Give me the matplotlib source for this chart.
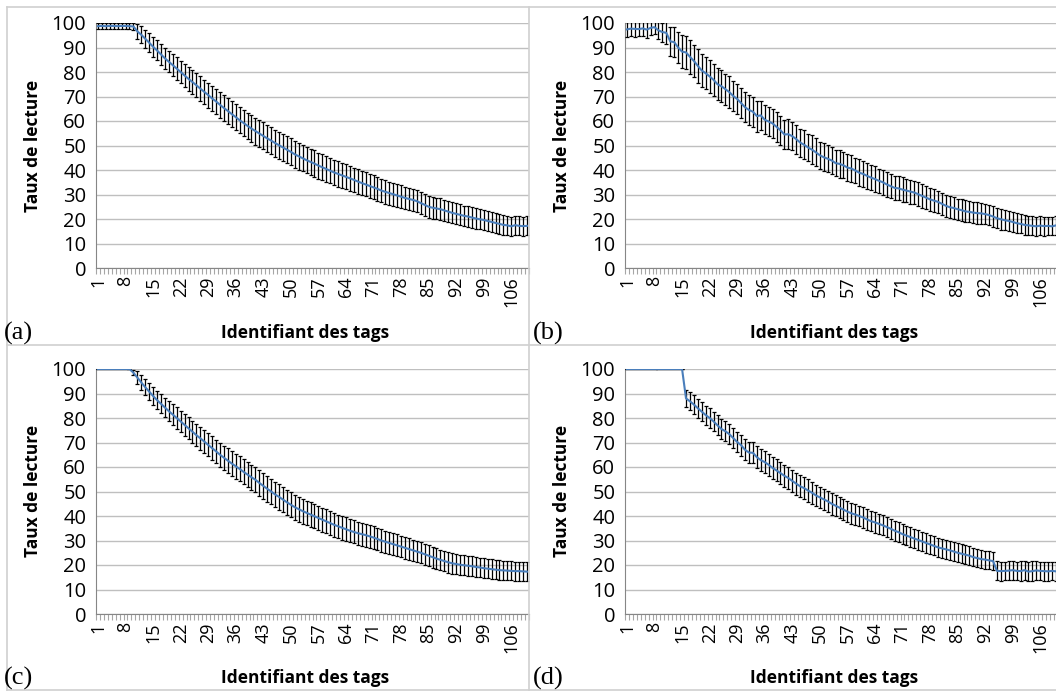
import matplotlib
matplotlib.use("Agg")
import matplotlib.pyplot as plt
from matplotlib.lines import Line2D

# mean read rate per tag (%), panels (a)-(d)
rate_a = [98.7, 98.8, 98.7, 98.8, 98.8, 98.7, 98.8, 98.8, 98.7, 98.6,
          96.6, 95.2, 93.6, 92.0, 90.3, 88.8, 87.2, 85.6, 84.2, 82.8,
          81.4, 80.0, 78.6, 77.2, 75.9, 74.6, 73.2, 71.9, 70.6, 69.2,
          68.0, 66.6, 65.3, 64.1, 62.8, 61.6, 60.3, 59.2, 58.0, 56.9,
          55.9, 54.9, 53.9, 52.9, 52.0, 51.0, 50.1, 49.2, 48.3, 47.4,
          46.4, 45.6, 44.8, 44.0, 43.3, 42.6, 41.8, 41.1, 40.4, 39.7,
          39.0, 38.4, 37.8, 37.2, 36.6, 36.0, 35.3, 34.7, 34.1, 33.5,
          32.9, 32.3, 31.6, 31.1, 30.6, 30.1, 29.6, 29.1, 28.6, 28.2,
          27.8, 27.3, 26.5, 25.8, 25.0, 24.6, 24.3, 24.0, 23.5, 23.0,
          22.5, 22.1, 21.7, 21.3, 21.0, 20.6, 20.2, 19.9, 19.6, 19.2,
          18.8, 18.4, 18.0, 17.6, 17.4, 17.0, 17.5, 17.2, 17.1, 17.2]
err_a = [1.3, 1.3, 1.2, 1.3, 1.3, 1.2, 1.3, 1.3, 1.2, 1.3,
         3.0, 3.4, 3.6, 3.8, 4.0, 4.1, 4.2, 4.3, 4.4, 4.5,
         4.6, 4.6, 4.7, 4.8, 4.8, 4.9, 5.0, 5.0, 5.1, 5.1,
         5.2, 5.2, 5.3, 5.3, 5.3, 5.4, 5.4, 5.4, 5.4, 5.5,
         5.5, 5.5, 5.5, 5.5, 5.5, 5.5, 5.5, 5.5, 5.5, 5.5,
         5.4, 5.5, 5.4, 5.4, 5.3, 5.4, 5.3, 5.3, 5.3, 5.2,
         5.2, 5.2, 5.1, 5.1, 5.1, 5.0, 5.0, 5.0, 4.9, 4.9,
         4.9, 4.8, 4.8, 4.8, 4.7, 4.7, 4.7, 4.6, 4.6, 4.6,
         4.6, 4.5, 4.5, 4.5, 4.5, 4.4, 4.4, 4.4, 4.4, 4.3,
         4.3, 4.3, 4.3, 4.2, 4.2, 4.2, 4.2, 4.1, 4.1, 4.1,
         4.1, 4.0, 4.0, 4.0, 4.0, 3.9, 3.9, 3.9, 3.9, 3.9]

rate_b = [97.4, 97.7, 97.6, 97.5, 97.8, 97.3, 98.0, 98.3, 97.0, 96.3,
          96.0, 92.5, 92.2, 90.0, 88.3, 88.0, 86.2, 84.5, 82.5, 80.6,
          79.5, 78.2, 76.8, 75.0, 74.2, 73.0, 71.8, 70.2, 69.0, 67.3,
          65.6, 64.5, 63.8, 62.0, 62.3, 60.5, 59.8, 59.0, 57.6, 56.2,
          54.5, 54.6, 53.8, 52.6, 51.2, 50.3, 49.2, 48.3, 47.2, 46.0,
          45.2, 44.6, 43.9, 42.8, 42.5, 41.9, 41.0, 40.6, 39.8, 38.9,
          38.4, 37.6, 36.9, 36.3, 35.6, 35.0, 34.1, 33.4, 32.7, 32.5,
          32.0, 31.6, 31.2, 30.8, 30.1, 29.4, 28.7, 28.0, 27.5, 27.0,
          26.2, 25.4, 24.8, 24.5, 24.0, 23.6, 23.1, 22.9, 22.6, 22.4,
          22.3, 22.0, 21.6, 21.0, 20.3, 19.9, 19.5, 19.2, 18.8, 18.3,
          18.0, 17.6, 17.4, 17.2, 17.0, 17.3, 17.1, 17.2, 17.0, 17.4]
err_b = [3.2, 3.0, 3.4, 2.9, 3.1, 3.3, 3.0, 2.8, 3.6, 3.9,
         4.5, 5.8, 6.2, 6.5, 6.8, 6.6, 6.9, 6.7, 6.8, 6.6,
         6.5, 6.7, 6.4, 6.6, 6.5, 6.3, 6.4, 6.2, 6.3, 6.1,
         6.2, 6.0, 6.1, 6.3, 6.0, 5.9, 6.1, 5.8, 6.0, 5.9,
         6.0, 6.2, 5.8, 5.9, 5.7, 5.9, 5.6, 5.8, 5.7, 5.6,
         5.7, 5.5, 5.6, 5.4, 5.6, 5.3, 5.5, 5.4, 5.3, 5.4,
         5.2, 5.3, 5.1, 5.2, 5.0, 5.1, 5.2, 4.9, 5.0, 4.9,
         5.0, 4.8, 4.9, 4.7, 4.8, 4.9, 4.6, 4.7, 4.6, 4.5,
         4.6, 4.5, 4.4, 4.6, 4.3, 4.4, 4.5, 4.3, 4.2, 4.4,
         4.3, 4.2, 4.1, 4.3, 4.0, 4.2, 4.1, 3.9, 4.0, 4.1,
         3.9, 4.0, 3.8, 3.9, 4.0, 3.8, 3.9, 3.8, 3.7, 3.8]

rate_c = [100, 100, 100, 100, 100, 100, 100, 100, 100, 98.5,
          96.5, 94.5, 92.6, 90.8, 89.0, 87.3, 85.8, 84.3, 82.8, 81.4,
          80.0, 78.6, 77.2, 75.8, 74.4, 73.0, 71.7, 70.4, 69.0, 67.7,
          66.4, 65.0, 63.8, 62.6, 61.4, 60.3, 59.2, 58.0, 56.9, 55.8,
          54.8, 53.5, 52.3, 51.1, 50.0, 48.8, 47.8, 46.7, 45.6, 44.6,
          43.6, 42.8, 42.0, 41.3, 40.6, 39.9, 39.2, 38.5, 37.8, 37.1,
          36.4, 35.8, 35.2, 34.6, 34.0, 33.5, 33.0, 32.6, 32.2, 31.7,
          31.2, 30.6, 30.0, 29.5, 29.0, 28.5, 28.0, 27.5, 27.0, 26.5,
          26.0, 25.5, 25.0, 24.4, 23.8, 23.2, 22.6, 22.1, 21.6, 21.1,
          20.7, 20.4, 20.1, 19.9, 19.7, 19.5, 19.2, 19.0, 18.7, 18.5,
          18.3, 18.1, 17.9, 17.8, 17.7, 17.6, 17.5, 17.5, 17.4, 17.3]
err_c = [0, 0, 0, 0, 0, 0, 0, 0, 0, 1.0,
         2.5, 3.0, 3.3, 3.5, 3.7, 3.8, 3.9, 4.0, 4.1, 4.2,
         4.3, 4.4, 4.4, 4.5, 4.5, 4.6, 4.6, 4.7, 4.7, 4.8,
         4.8, 4.9, 4.9, 5.0, 5.0, 5.0, 5.1, 5.1, 5.1, 5.1,
         5.2, 5.2, 5.2, 5.2, 5.2, 5.2, 5.2, 5.2, 5.2, 5.1,
         5.1, 5.1, 5.1, 5.0, 5.0, 5.0, 5.0, 4.9, 4.9, 4.9,
         4.9, 4.8, 4.8, 4.8, 4.8, 4.7, 4.7, 4.7, 4.7, 4.6,
         4.6, 4.6, 4.6, 4.5, 4.5, 4.5, 4.5, 4.4, 4.4, 4.4,
         4.4, 4.4, 4.3, 4.3, 4.3, 4.3, 4.3, 4.2, 4.2, 4.2,
         4.2, 4.2, 4.1, 4.1, 4.1, 4.1, 4.1, 4.0, 4.0, 4.0,
         4.0, 4.0, 4.0, 3.9, 3.9, 3.9, 3.9, 3.9, 3.9, 3.9]

rate_d = [100, 100, 100, 100, 100, 100, 100, 100, 100, 100,
          100, 100, 100, 100, 100, 88.0, 86.8, 85.5, 84.0, 82.6,
          81.2, 80.0, 78.6, 77.0, 75.5, 74.6, 73.4, 71.8, 70.2, 68.9,
          67.0, 65.9, 65.8, 64.0, 62.8, 62.0, 60.9, 59.6, 58.6, 57.5,
          56.4, 55.5, 54.3, 53.2, 52.1, 51.4, 50.4, 49.5, 48.4, 47.6,
          46.8, 46.0, 45.0, 44.2, 43.4, 42.6, 41.8, 41.1, 40.6, 40.0,
          39.4, 38.6, 37.9, 37.4, 36.8, 36.2, 35.5, 34.8, 34.0, 33.4,
          32.6, 32.0, 31.4, 30.8, 30.2, 29.6, 29.0, 28.4, 27.8, 27.2,
          26.8, 26.4, 26.0, 25.5, 25.0, 24.6, 24.2, 23.8, 23.2, 22.8,
          22.4, 22.2, 21.9, 21.6, 17.6, 17.5, 17.6, 17.7, 17.9, 17.6,
          17.5, 17.9, 17.3, 17.5, 17.8, 17.6, 17.5, 17.4, 17.6, 17.4]
err_d = [0, 0, 0, 0, 0, 0, 0, 0, 0, 0,
         0, 0, 0, 0, 0, 3.6, 3.7, 3.8, 3.8, 3.9,
         3.9, 4.0, 4.0, 4.1, 4.1, 4.1, 4.2, 4.2, 4.2, 4.3,
         4.3, 4.3, 4.3, 4.4, 4.4, 4.4, 4.4, 4.4, 4.5, 4.5,
         4.5, 4.5, 4.5, 4.5, 4.5, 4.5, 4.5, 4.5, 4.4, 4.4,
         4.4, 4.4, 4.4, 4.4, 4.3, 4.3, 4.3, 4.3, 4.3, 4.2,
         4.2, 4.2, 4.2, 4.2, 4.1, 4.1, 4.1, 4.1, 4.1, 4.0,
         4.0, 4.0, 4.0, 4.0, 4.0, 3.9, 3.9, 3.9, 3.9, 3.9,
         3.9, 3.9, 3.8, 3.8, 3.8, 3.8, 3.8, 3.8, 3.8, 3.7,
         3.7, 3.7, 3.7, 3.7, 3.9, 3.9, 3.8, 4.0, 3.9, 3.8,
         4.0, 3.9, 3.8, 4.0, 3.9, 3.8, 3.9, 4.0, 3.8, 3.9]

panels = ['(a)', '(b)', '(c)', '(d)']
rates = [rate_a, rate_b, rate_c, rate_d]
errs = [err_a, err_b, err_c, err_d]
tags = list(range(1, len(rate_a) + 1))
tick_tags = tags[::7]

W, H = 1056, 693
fig = plt.figure(figsize=(W / 100, H / 100), dpi=100)

def px_rect(left, top, right, bottom):
    return [left / W, 1 - bottom / H, (right - left) / W, (bottom - top) / H]

# pixel boxes of the four plot areas (left, top, right, bottom)
boxes = [(96, 23, 529, 268), (625, 23, 1058, 268),
         (96, 369, 529, 614), (625, 369, 1058, 614)]
offsets = [(0, 0), (529, 0), (0, 345), (529, 345)]

grey = '#bfbfbf'
for k in range(4):
    ax = fig.add_axes(px_rect(*boxes[k]))
    ax.errorbar(tags, rates[k], yerr=errs[k], color='#4a7ebb', lw=1.5,
                ecolor='black', elinewidth=0.9, capsize=1.6, capthick=0.9, zorder=3)
    ax.set_xlim(0.5, len(tags) + 0.5)
    ax.set_ylim(0, 100)
    ax.set_yticks(range(0, 101, 10))
    ax.yaxis.grid(True, color=grey, lw=1)
    ax.set_axisbelow(True)
    ax.set_xticks(tick_tags)
    ax.set_xticklabels([str(t) for t in tick_tags], rotation=90, fontsize=13,
                       family='Open Sans')
    ax.set_xticks([t + 0.5 for t in range(0, len(tags) + 1)], minor=True)
    ax.tick_params(axis='x', which='major', length=0, pad=6)
    ax.tick_params(axis='x', which='minor', length=4, color='#a6a6a6', width=0.8)
    ax.tick_params(axis='y', length=0, pad=7, labelsize=14.5)
    for lab in ax.get_yticklabels():
        lab.set_family('Open Sans')
    for s in ['top', 'right']:
        ax.spines[s].set_visible(False)
    ax.spines['left'].set_color('#868686')
    ax.spines['bottom'].set_color('#868686')

    dx, dy = offsets[k]
    fig.text((33 + dx) / W, 1 - (146 + dy) / H, 'Taux de lecture', rotation=90,
             ha='center', va='center', fontsize=12.5, fontweight='bold', family='Open Sans')
    fig.text((305 + dx) / W, 1 - (333 + dy) / H, 'Identifiant des tags',
             ha='center', va='center', fontsize=12.5, fontweight='bold', family='Open Sans')
    fig.text((4 + dx) / W, 1 - (333 + dy) / H, panels[k], ha='left', va='center',
             fontsize=19, family='Liberation Serif')

# cell borders
for x0, y0, x1, y1 in [(7, 7, 1056, 7), (7, 7, 7, 690), (7, 345, 1056, 345),
                       (529, 7, 529, 690), (7, 690, 1056, 690)]:
    fig.add_artist(Line2D([x0 / W, x1 / W], [1 - y0 / H, 1 - y1 / H],
                          color='#d0d0d0', lw=1.2))

plt.savefig('out.png', dpi=100)
